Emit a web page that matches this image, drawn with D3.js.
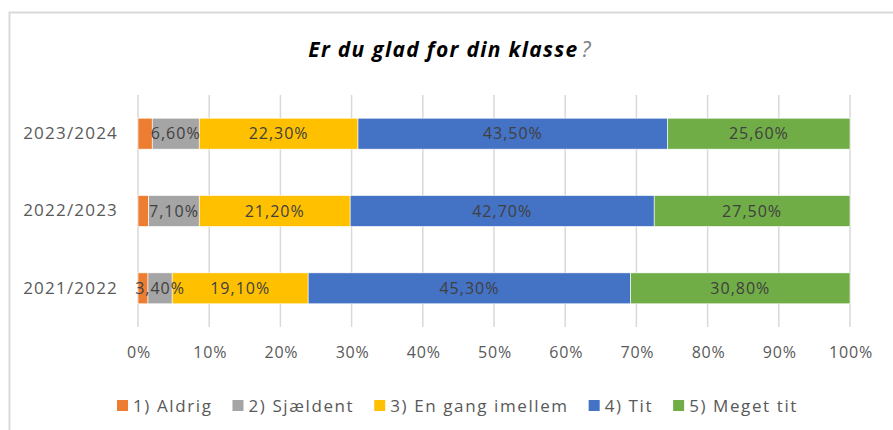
<!DOCTYPE html>
<html>
<head>
<meta charset="utf-8">
<script src="https://cdn.jsdelivr.net/npm/d3@7"></script>
<style>
  html, body { margin: 0; padding: 0; background: #fff; }
  svg { display: block; }
  text { font-family: "Open Sans", "Liberation Sans", sans-serif; }
</style>
</head>
<body>
<svg id="chart" width="893" height="430"></svg>
<script>
// ---- data ----
const title = "Er du glad for din klasse";
const categories = ["2023/2024", "2022/2023", "2021/2022"];
const seriesNames = ["1) Aldrig", "2) Sjældent", "3) En gang imellem", "4) Tit", "5) Meget tit"];
const seriesColors = ["#ED7D31", "#A5A5A5", "#FFC000", "#4472C4", "#70AD47"];
const aldrig = [2.0, 1.5, 1.4];
const sjaeldent = [6.6, 7.1, 3.4];
const enGang = [22.3, 21.2, 19.1];
const tit = [43.5, 42.7, 45.3];
const megetTit = [25.6, 27.5, 30.8];
const showLabel = [false, true, true, true, true];
const tickValues = [0, 10, 20, 30, 40, 50, 60, 70, 80, 90, 100];
const tickLabels = ["0%", "10%", "20%", "30%", "40%", "50%", "60%", "70%", "80%", "90%", "100%"];

const seriesValues = [aldrig, sjaeldent, enGang, tit, megetTit];
const rows = categories.map((c, i) => {
  const r = { cat: c };
  seriesNames.forEach((s, k) => r[s] = seriesValues[k][i]);
  return r;
});
const stacked = d3.stack().keys(seriesNames)(rows);

// ---- layout ----
const svg = d3.select("#chart");
const W = 893, H = 430;
const plot = { left: 138, right: 850, top: 95, bottom: 327 };

svg.append("rect").attr("width", W).attr("height", H).attr("fill", "#fff");
// chart frame
svg.append("rect")
  .attr("x", 9.5).attr("y", 12.5)
  .attr("width", W + 10).attr("height", H + 10)
  .attr("fill", "none").attr("stroke", "#d9d9d9").attr("stroke-width", 2);

// title
const t = svg.append("text")
  .attr("x", 450).attr("y", 57)
  .attr("text-anchor", "middle")
  .style("font-size", "21px")
  .style("letter-spacing", "1.3px");
t.append("tspan").attr("font-weight", 700).attr("font-style", "italic").attr("fill", "#000").text(title);
t.append("tspan").attr("dx", 3).attr("font-style", "italic").attr("fill", "#7f7f7f").text("?");

const x = d3.scaleLinear().domain([0, 100]).range([plot.left, plot.right]);
const y = d3.scaleBand().domain(categories).range([plot.top, plot.bottom])
  .paddingInner(0.6).paddingOuter(0.3);

// gridlines
svg.append("g").selectAll("line").data(tickValues).join("line")
  .attr("x1", d => x(d)).attr("x2", d => x(d))
  .attr("y1", plot.top).attr("y2", plot.bottom)
  .attr("stroke", "#d9d9d9").attr("stroke-width", 1.5);

// x axis labels
const xAxis = d3.axisBottom(x).tickValues(tickValues)
  .tickFormat((d, i) => tickLabels[i]).tickSize(0).tickPadding(0);
const gx = svg.append("g").attr("transform", `translate(0.5,${plot.bottom + 31})`).call(xAxis);
gx.select(".domain").remove();
gx.selectAll("text").attr("fill", "#595959").style("font-size", "16px")
  .style("letter-spacing", "0.8px")
  .style("font-family", "'Open Sans', sans-serif").attr("dy", "0");

// y axis labels
const yAxis = d3.axisLeft(y).tickSize(0).tickPadding(0);
const gy = svg.append("g").attr("transform", `translate(${plot.left - 20},0)`).call(yAxis);
gy.select(".domain").remove();
gy.selectAll("text").attr("fill", "#595959").style("font-size", "17px")
  .style("letter-spacing", "1.2px")
  .style("font-family", "'Open Sans', sans-serif");

// bars
const layers = svg.append("g").selectAll("g").data(stacked).join("g")
  .attr("fill", (d, i) => seriesColors[i]);
layers.selectAll("rect").data(d => d).join("rect")
  .attr("x", d => x(d[0]))
  .attr("y", d => y(d.data.cat))
  .attr("width", d => x(d[1]) - x(d[0]))
  .attr("height", y.bandwidth())
  .attr("stroke", "#fff").attr("stroke-width", 0.6);

// data labels
const fmt = v => v.toFixed(2).replace(".", ",") + "%";
stacked.forEach((layer, i) => {
  if (!showLabel[i]) return;
  svg.append("g").selectAll("text").data(layer).join("text")
    .attr("x", d => (x(d[0]) + x(d[1])) / 2)
    .attr("y", d => y(d.data.cat) + y.bandwidth() / 2)
    .attr("dy", "0.35em")
    .attr("text-anchor", "middle")
    .attr("fill", "#404040")
    .style("font-size", "16px")
    .style("letter-spacing", "1px")
    .text(d => fmt(d[1] - d[0]));
});

// legend (flow layout, centered)
const legend = svg.append("g");
const items = legend.selectAll("g").data(seriesNames).join("g");
items.append("rect").attr("width", 11).attr("height", 11).attr("y", -6)
  .attr("fill", (d, i) => seriesColors[i]);
items.append("text").attr("x", 16).attr("dy", "0.35em")
  .attr("fill", "#595959").style("font-size", "17px")
  .style("letter-spacing", "1.6px").text(d => d);
let cx = 0;
const gap = 20;
items.each(function () {
  const w = this.getBBox().width;
  d3.select(this).attr("transform", `translate(${cx},0)`);
  cx += w + gap;
});
const total = cx - gap;
legend.attr("transform", `translate(${457.5 - total / 2},406)`);
</script>
</body>
</html>
